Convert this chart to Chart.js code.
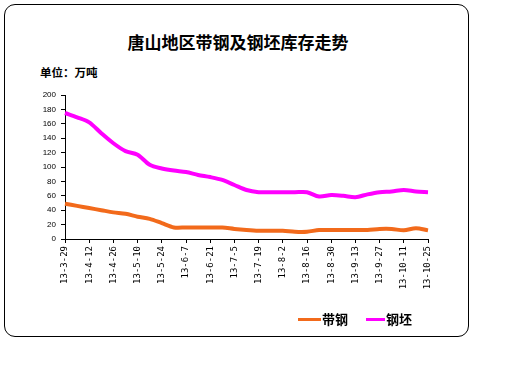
<!DOCTYPE html>
<html>
<head>
<meta charset="utf-8">
<script src="https://cdn.jsdelivr.net/npm/chart.js@4"></script>
<style>
  html, body { margin: 0; padding: 0; background: #fff; }
  #wrap { position: relative; width: 512px; height: 384px; }
  #frame {
    position: absolute; left: 4px; top: 4px; width: 463px; height: 331px;
    border: 1px solid #000; border-radius: 11px;
  }
  #chart { position: absolute; left: 0; top: 0; }
  .txt { position: absolute; font-family: "Noto Sans CJK SC", sans-serif; font-weight: bold; color: #000; line-height: 1; white-space: nowrap; }
  #title { left: 0; width: 476px; top: 33px; text-align: center; font-size: 17px; }
  #unit { left: 40px; top: 67px; font-size: 11.5px; }
  .swatch { position: absolute; height: 3px; }
  .leg { top: 312px; font-size: 13px; }
</style>
</head>
<body>
<div id="wrap">
  <div id="frame"></div>
  <div id="title" class="txt">唐山地区带钢及钢坯库存走势</div>
  <div id="unit" class="txt">单位：万吨</div>
  <canvas id="chart" width="512" height="384"></canvas>
  <div class="swatch" style="left:298px;top:318px;width:23px;background:#f26a1b"></div>
  <div class="txt leg" style="left:322px">带钢</div>
  <div class="swatch" style="left:366px;top:318px;width:19px;background:#ff00ff"></div>
  <div class="txt leg" style="left:386px">钢坯</div>
</div>
<script>
// weekly inventory, Tangshan (10k tonnes)
const DATES = [
  "13-3-29", "13-4-5", "13-4-12", "13-4-19", "13-4-26", "13-5-3", "13-5-10",
  "13-5-17", "13-5-24", "13-5-31", "13-6-7", "13-6-14", "13-6-21", "13-6-28",
  "13-7-5", "13-7-12", "13-7-19", "13-7-26", "13-8-2", "13-8-9", "13-8-16",
  "13-8-23", "13-8-30", "13-9-6", "13-9-13", "13-9-20", "13-9-27", "13-10-4",
  "13-10-11", "13-10-18", "13-10-25",
];
const STRIP = [
  49, 46, 43, 40, 37, 35, 31, 28, 22, 16, 16, 16, 16, 16, 14, 12.5,
  11.5, 11.5, 11.5, 10, 10, 12.5, 12.5, 12.5, 12.5, 12.5, 14, 14, 12, 15, 12,
];
const BILLET = [
  175, 169, 162, 147, 133, 122, 117, 103, 98, 95, 93, 89, 86, 82, 75, 68,
  65, 65, 65, 65, 65, 59, 61, 60, 58, 62, 65, 66, 68, 66, 65,
];
const Y_TICKS = { min: 0, max: 200, step: 20 };

const ORANGE = "#f26a1b";
const MAGENTA = "#ff00ff";

new Chart(document.getElementById("chart"), {
  type: "line",
  data: {
    labels: DATES,
    datasets: [
      { label: "带钢", data: STRIP, borderColor: ORANGE, backgroundColor: ORANGE },
      { label: "钢坯", data: BILLET, borderColor: MAGENTA, backgroundColor: MAGENTA },
    ],
  },
  options: {
    responsive: false,
    animation: false,
    layout: { padding: { left: 25, right: 84, top: 95, bottom: 45 } },
    elements: {
      line: { borderWidth: 4, tension: 0.3 },
      point: { radius: 0 },
    },
    plugins: {
      legend: { display: false },
      title: { display: false },
      tooltip: { enabled: false },
    },
    scales: {
      x: {
        type: "category",
        offset: false,
        afterFit(s) { s.height = 100; },
        grid: {
          drawOnChartArea: false,
          tickLength: 4,
          tickColor: (c) => (c.index % 2 ? "rgba(0,0,0,0)" : "#000"),
        },
        border: { color: "#000", width: 1 },
        ticks: {
          autoSkip: false,
          minRotation: 90,
          maxRotation: 90,
          padding: 3,
          color: "#000",
          font: { family: "DejaVu Sans Mono", size: 9 },
          callback(v, i) { return i % 2 ? "" : this.getLabelForValue(v); },
        },
      },
      y: {
        min: Y_TICKS.min,
        max: Y_TICKS.max,
        afterFit(s) { s.width = 40; },
        grid: { drawOnChartArea: false, tickLength: 4, tickColor: "#000" },
        border: { color: "#000", width: 1 },
        ticks: {
          stepSize: Y_TICKS.step,
          padding: 5,
          color: "#000",
          font: { family: "Liberation Sans", size: 8 },
        },
      },
    },
  },
});
</script>
</body>
</html>
